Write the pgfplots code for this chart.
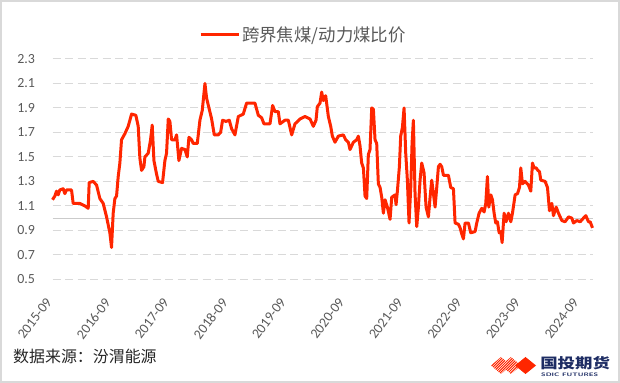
\documentclass[border=0pt]{standalone}
\usepackage{pgfplots}
\pgfplotsset{compat=1.18}
\usepackage{graphicx}
\usepackage{fontspec}
\setmainfont{Carlito}
\newfontfamily\cjk{Noto Sans CJK SC}
\definecolor{lineRed}{RGB}{255,38,0}
\definecolor{gridGray}{RGB}{217,217,217}
\definecolor{txtGray}{RGB}{89,89,89}
\definecolor{logoNavy}{RGB}{30,45,100}
\begin{document}
\begin{tikzpicture}
\path[use as bounding box] (0,0) rectangle (620bp,383bp);
\draw[gridGray, line width=2bp] (1bp,1bp) rectangle (619bp,382bp);
\begin{axis}[
  at={(52.5bp,103.7bp)}, anchor=south west,
  scale only axis, width=540bp, height=220.3bp,
  xmin=0, xmax=110.7, ymin=0.5, ymax=2.3,
  axis line style={draw=none},
  tick style={draw=none},
  ytick={0.5,0.7,...,2.31},
  /pgf/number format/fixed, /pgf/number format/fixed zerofill, /pgf/number format/precision=1,
  /pgf/number format/assume math mode=true,
  yticklabel style={font=\fontsize{14}{14}\selectfont, text=txtGray, anchor=east, xshift=-14bp},
  xtick={0,12,...,108},
  xticklabels={2015-09,2016-09,2017-09,2018-09,2019-09,2020-09,2021-09,2022-09,2023-09,2024-09},
  xticklabel style={font=\fontsize{14}{14}\selectfont, text=txtGray, xshift=-7.5bp, yshift=-17.5bp, rotate=53, anchor=north east, inner sep=0pt},
  ymajorgrids,
  major grid style={gridGray, line width=1bp, dash pattern=on 8bp off 4.5bp},
  clip=false,
  legend style={at={(0.271,1.109)}, anchor=west, draw=none, fill=none, inner sep=0pt,
    font=\cjk\fontsize{17.5}{17.5}\selectfont, text=txtGray},
  legend cell align=left,
  legend image code/.code={\draw[line width=3bp, lineRed] (0bp,0bp) -- (38bp,0bp);},
]
\addplot[gridGray!85!gray, line width=1.2bp, forget plot] coordinates {(0,1) (110.7,1)};
\addplot[lineRed, line width=3bp, line join=round] coordinates {
(0,1.15) (0.48,1.18) (0.82,1.22) (1.16,1.19) (1.50,1.23) (2.19,1.24) (2.53,1.20) (2.87,1.23)
(3.90,1.23) (4.24,1.12) (5.61,1.12) (6.63,1.10) (7.32,1.08) (7.52,1.29) (8.34,1.30) (9.03,1.27)
(9.71,1.16) (10.39,1.12) (11.08,1.01) (11.76,0.88) (12.10,0.76) (12.44,1.04) (12.79,1.16) (13.13,1.18)
(13.47,1.34) (13.81,1.45) (14.15,1.64) (14.84,1.69) (15.52,1.75) (16.21,1.85) (17.09,1.84) (17.57,1.75)
(17.91,1.49) (18.26,1.39) (18.74,1.42) (18.94,1.50) (19.62,1.53) (20.10,1.64) (20.44,1.76) (20.79,1.47)
(21.33,1.36) (21.68,1.30) (22.56,1.29) (23.04,1.47) (23.38,1.53) (23.73,1.81) (24.07,1.79) (24.41,1.64)
(25.09,1.64) (25.44,1.68) (25.91,1.47) (26.46,1.57) (27.15,1.56) (27.62,1.50) (27.97,1.66) (28.51,1.64)
(28.85,1.61) (29.68,1.61) (30.22,1.80) (30.70,1.88) (31.25,2.10) (31.59,1.98) (32.62,1.81) (33.16,1.68)
(33.98,1.68) (34.46,1.70) (34.87,1.80) (35.56,1.79) (36.24,1.80) (36.72,1.73) (37.40,1.68) (38.09,1.83)
(39.11,1.85) (39.79,1.94) (41.50,1.94) (42.19,1.84) (42.87,1.82) (43.35,1.77) (44.58,1.77) (45.13,1.92)
(45.61,1.87) (46.29,1.87) (46.63,1.77) (47.66,1.80) (48.34,1.80) (49.03,1.68) (49.71,1.77) (50.74,1.81)
(51.76,1.83) (52.79,1.81) (53.47,1.75) (54.02,1.80) (54.29,1.91) (54.84,1.94) (55.18,2.03) (55.52,1.96)
(56.00,2.00) (56.55,1.83) (57.03,1.75) (57.37,1.67) (57.91,1.62) (58.60,1.67) (59.62,1.68) (60.10,1.64)
(60.65,1.62) (60.99,1.56) (61.68,1.62) (62.36,1.64) (62.70,1.67) (63.04,1.59) (63.38,1.45) (63.73,1.41)
(64.07,1.18) (64.41,1.16) (64.75,1.52) (65.09,1.56) (65.44,1.90) (65.78,1.89) (66.12,1.64) (66.46,1.61)
(66.80,1.28) (67.15,1.25) (67.49,1.17) (67.83,1.04) (68.17,1.15) (68.65,1.09) (69.20,0.99) (69.54,1.17)
(70.22,1.19) (70.43,1.11) (70.70,1.22) (71.11,1.42) (71.38,1.67) (71.73,1.74) (72.07,1.90) (72.41,1.53)
(72.75,1.31) (73.09,0.96) (73.44,1.25) (73.71,1.61) (73.98,1.80) (74.32,1.20) (74.67,0.93) (75.01,1.09)
(75.35,1.31) (75.69,1.45) (76.17,1.37) (76.58,1.09) (77.06,1.01) (77.40,1.17) (77.74,1.31) (78.09,1.20)
(78.43,1.09) (78.77,1.25) (79.11,1.42) (79.45,1.44) (79.79,1.42) (80.14,1.35) (81.16,1.35) (81.64,1.25)
(82.19,1.24) (82.53,0.96) (83.21,0.95) (83.56,0.92) (83.90,0.87) (84.24,0.83) (84.58,0.96) (85.26,0.96)
(85.74,0.88) (86.63,0.89) (86.97,0.96) (87.45,1.04) (88.00,1.08) (88.48,1.05) (88.82,1.12) (89.16,1.34)
(89.44,1.09) (89.85,1.19) (90.19,1.15) (90.53,1.04) (90.87,0.96) (91.21,0.97) (91.56,0.88) (91.90,0.89)
(92.17,0.80) (92.58,1.04) (92.99,0.97) (93.47,1.04) (93.95,0.97) (94.29,1.04) (94.84,1.19) (95.32,1.20)
(95.73,1.25) (96.00,1.41) (96.34,1.28) (96.89,1.30) (97.57,1.27) (98.05,1.22) (98.39,1.45) (98.74,1.41)
(99.15,1.41) (99.49,1.39) (99.83,1.38) (100.10,1.31) (100.99,1.30) (101.47,1.25) (101.88,1.06) (102.36,1.12)
(102.70,1.02) (103.25,1.09) (103.73,1.04) (104.41,0.98) (105.09,0.97) (105.78,1.01) (106.46,1.00) (106.80,0.96)
(107.49,0.98) (108.17,0.97) (108.85,1.00) (109.33,1.02) (109.88,0.97) (110.22,0.97) (110.70,0.92)
};
\addlegendentry{跨界焦煤/动力煤比价}
\end{axis}
\node[anchor=west, inner sep=0pt, font=\cjk\fontsize{16}{16}\selectfont, text=black!85] at (13bp,27bp) {数据来源：汾渭能源};
% logo
\begin{scope}
\clip (491bp,17.5bp) -- (501bp,26bp) -- (511bp,17.5bp) -- (501bp,9bp) -- cycle
      (501bp,17.5bp) -- (511bp,26bp) -- (521bp,17.5bp) -- (511bp,9bp) -- cycle;
\foreach \i in {0,...,16} \draw[lineRed, line width=1bp] ({(472+2.6*\i)*1bp},0bp) -- ++(30bp,30bp);
\end{scope}
\fill[lineRed] (515bp,17.5bp) -- (525.5bp,26bp) -- (536bp,17.5bp) -- (525.5bp,9bp) -- cycle;
\node[anchor=west, inner sep=0pt, font=\cjk\bfseries\fontsize{14}{14}\selectfont, text=logoNavy, xscale=1.25] at (540bp,19.5bp) {国投期货};
\node[anchor=west, inner sep=0pt, text=logoNavy] at (541bp,8bp) {\scalebox{1.5}[1]{\sffamily\bfseries\fontsize{5}{5}\selectfont SDIC FUTURES}};
\end{tikzpicture}
\end{document}
